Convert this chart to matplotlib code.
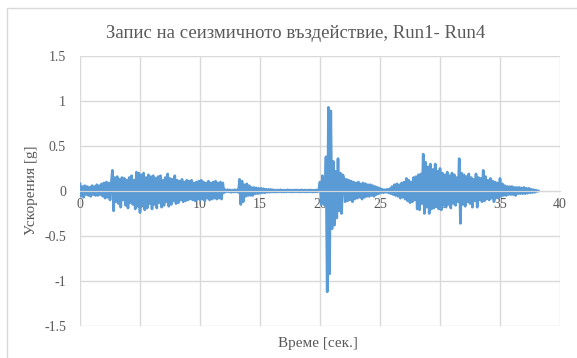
import numpy as np
import matplotlib.pyplot as plt
from matplotlib.patches import Rectangle

# acceleration record [g], one sample every 0.1 s starting at t = 0
dt = 0.1
accel = [
    # 0-9 s
    0.08, -0.06, 0.05, -0.07, 0.06, -0.04, 0.05, -0.05, 0.04, -0.06,
    0.06, -0.04, 0.05, -0.05, 0.07, -0.05, 0.06, -0.04, 0.08, -0.06,
    0.09, -0.08, 0.10, -0.07, 0.09, -0.10, 0.08, 0.23, -0.22, 0.15,
    -0.12, 0.16, -0.14, 0.13, -0.18, 0.15, -0.10, 0.14, -0.16, 0.12,
    -0.19, 0.15, -0.13, 0.17, -0.15, 0.12, -0.20, 0.21, -0.17, 0.20,
    -0.24, 0.18, -0.16, 0.20, -0.21, 0.15, -0.19, 0.18, -0.14, 0.16,
    -0.20, 0.17, -0.15, 0.14, -0.19, 0.16, -0.13, 0.17, -0.18, 0.12,
    -0.16, 0.15, -0.12, 0.19, -0.17, 0.14, -0.15, 0.13, -0.11, 0.17,
    -0.14, 0.12, -0.13, 0.11, -0.10, 0.13, -0.12, 0.10, -0.11, 0.12,
    -0.10, 0.11, -0.09, 0.12, -0.10, 0.09, -0.11, 0.10, -0.09, 0.11,
    # 10-19 s
    -0.10, 0.12, -0.09, 0.10, -0.11, 0.09, -0.08, 0.11, -0.10, 0.09,
    -0.09, 0.10, -0.08, 0.11, -0.09, 0.09, -0.08, 0.10, -0.09, 0.09,
    -0.02, 0.015, -0.01, 0.015, -0.01, 0.012, -0.015, 0.01, -0.012, 0.015,
    -0.01, 0.012, -0.015, 0.13, -0.15, 0.11, -0.12, 0.07, -0.06, 0.08,
    -0.05, 0.06, -0.05, 0.04, -0.05, 0.04, -0.03, 0.035, -0.03, 0.03,
    -0.025, 0.03, -0.02, 0.025, -0.02, 0.02, -0.015, 0.02, -0.015, 0.018,
    -0.012, 0.015, -0.012, 0.01, -0.013, 0.012, -0.01, 0.014, -0.012, 0.011,
    -0.012, 0.01, -0.011, 0.013, -0.01, 0.012, -0.012, 0.01, -0.011, 0.012,
    -0.01, 0.012, -0.011, 0.01, -0.012, 0.013, -0.01, 0.011, -0.012, 0.01,
    -0.011, 0.012, -0.01, 0.011, -0.012, 0.01, -0.011, 0.012, -0.01, 0.012,
    # 20-29 s
    0.10, -0.15, 0.17, -0.13, -0.16, 0.38, -1.12, 0.93, -0.92, 0.89,
    -0.42, 0.33, -0.38, 0.22, -0.30, 0.36, -0.22, 0.20, -0.25, 0.18,
    0.14, -0.12, 0.13, -0.11, 0.12, -0.10, 0.11, -0.12, 0.10, -0.09,
    0.09, -0.08, 0.10, -0.07, 0.08, -0.09, 0.09, -0.07, 0.08, -0.06,
    0.07, -0.06, 0.07, -0.05, 0.06, -0.06, 0.05, -0.04, 0.04, -0.03,
    0.03, -0.02, 0.02, -0.02, 0.015, -0.015, 0.02, -0.02, 0.025, -0.03,
    0.05, -0.04, 0.07, -0.05, 0.08, -0.06, 0.07, -0.08, 0.09, -0.07,
    0.10, -0.09, 0.14, -0.11, 0.12, -0.13, 0.10, -0.12, 0.15, -0.10,
    0.16, -0.20, 0.18, -0.21, 0.19, -0.14, 0.41, -0.25, 0.32, -0.18,
    0.27, -0.25, 0.30, -0.20, 0.24, -0.19, 0.30, -0.17, 0.22, -0.20,
    # 30-38 s
    0.25, -0.21, 0.20, -0.16, 0.18, -0.18, 0.21, -0.15, 0.17, -0.19,
    0.20, -0.14, 0.18, -0.16, 0.15, -0.12, 0.36, -0.36, 0.20, -0.15,
    0.18, -0.17, 0.16, -0.12, 0.19, -0.14, 0.15, -0.18, 0.13, -0.11,
    0.19, -0.18, 0.15, -0.10, 0.14, -0.12, 0.23, -0.11, 0.16, -0.09,
    0.12, -0.10, 0.14, -0.08, 0.11, -0.12, 0.10, -0.07, 0.09, -0.08,
    0.14, -0.06, 0.08, -0.05, 0.06, -0.05, 0.05, -0.04, 0.05, -0.04,
    0.05, -0.04, 0.04, -0.05, 0.04, -0.03, 0.04, -0.03, 0.035, -0.03,
    0.04, -0.03, 0.03, -0.025, 0.03, -0.02, 0.02, -0.02, 0.015, -0.015,
    0.01, -0.005, 0.0,
]
time = np.arange(len(accel)) * dt

x_ticks = [0, 5, 10, 15, 20, 25, 30, 35, 40]
y_ticks = [-1.5, -1, -0.5, 0, 0.5, 1, 1.5]

title = 'Запис на сеизмичното въздействие, Run1- Run4'
xlabel = 'Време [сек.]'
ylabel = 'Ускорения [g]'

plt.rcParams['font.family'] = ['Liberation Serif', 'DejaVu Serif']
text_col = '#595959'
grid_col = '#D9D9D9'

fig = plt.figure(figsize=(5.77, 3.58), dpi=100)
ax = fig.add_axes([80 / 577, 32 / 358, 480 / 577, 270 / 358])

# chart border (only left/top edges fall inside the picture)
fig.patches.append(Rectangle((7 / 577, -0.1), 1.2, (358 - 8) / 358 + 0.1,
                             transform=fig.transFigure, fill=False,
                             edgecolor=grid_col, lw=1))

ax.plot(time, accel, color='#5B9BD5', lw=1.9)

ax.set_xlim(0, 40)
ax.set_ylim(-1.5, 1.5)
ax.set_xticks(x_ticks)
ax.set_yticks(y_ticks)
ax.set_yticklabels([f'{v:g}' for v in y_ticks])
ax.grid(True, color=grid_col, lw=1)
ax.set_axisbelow(True)

for side in ['top', 'right', 'left']:
    ax.spines[side].set_visible(False)
ax.spines['bottom'].set_position(('data', 0))
ax.spines['bottom'].set_color(grid_col)
ax.tick_params(length=0, labelsize=10, labelcolor=text_col)
ax.tick_params(axis='x', pad=5)
ax.tick_params(axis='y', pad=10)

fig.text(296 / 577, 1 - 33 / 358, title, ha='center', va='center',
         fontsize=13.5, color=text_col)
fig.text(318 / 577, 1 - 343 / 358, xlabel, ha='center', va='center',
         fontsize=11, color=text_col)
fig.text(31 / 577, 1 - 190 / 358, ylabel, ha='center', va='center',
         rotation=90, fontsize=11, color=text_col)

fig.savefig('out.png', dpi=100)
